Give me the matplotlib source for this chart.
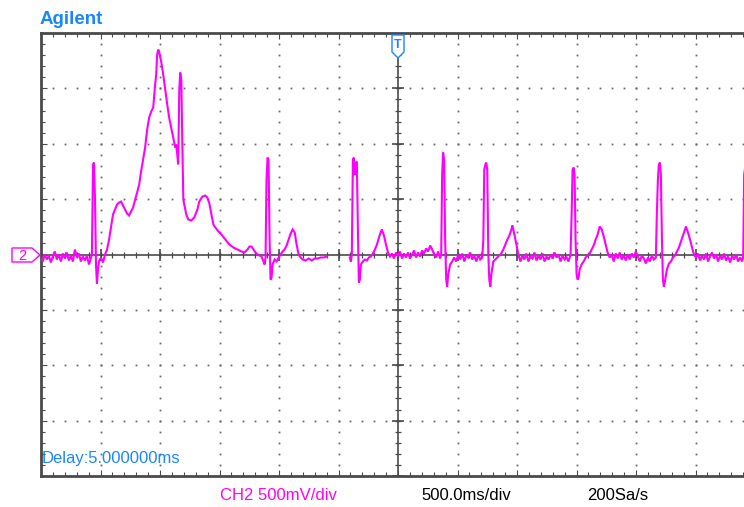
import numpy as np
import matplotlib
matplotlib.use("Agg")
import matplotlib.pyplot as plt
from matplotlib.ticker import MultipleLocator, NullFormatter
from matplotlib.patches import Polygon
import matplotlib.transforms as mtransforms

# ---------------- data (time in s relative to screen centre, CH2 in V) ----------------
nan = float("nan")
time_s = [
    -3.010, -2.985, -2.968, -2.951, -2.934, -2.917, -2.901, -2.884, -2.867, -2.850,
    -2.833, -2.816, -2.799, -2.783, -2.766, -2.749, -2.732, -2.715, -2.698, -2.681,
    -2.665, -2.648, -2.631, -2.614, -2.597, -2.580, -2.572, -2.563, -2.555, -2.546,
    -2.538, -2.530, -2.521, -2.513, -2.496, -2.479, -2.462, -2.445, -2.428, -2.412,
    -2.395, -2.378, -2.361, -2.344, -2.327, -2.310, -2.294, -2.277, -2.260, -2.243,
    -2.226, -2.209, -2.192, -2.175, -2.159, -2.142, -2.125, -2.108, -2.091, -2.074,
    -2.057, -2.041, -2.032, -2.024, -2.015, -2.007, -1.998, -1.990, -1.973, -1.956,
    -1.939, -1.923, -1.906, -1.889, -1.872, -1.863, -1.855, -1.847, -1.838, -1.830,
    -1.821, -1.813, -1.804, -1.796, -1.779, -1.762, -1.737, -1.712, -1.686, -1.670,
    -1.644, -1.619, -1.602, -1.585, -1.568, -1.551, -1.535, -1.509, -1.484, -1.450,
    -1.417, -1.383, -1.349, -1.315, -1.290, -1.265, -1.248, -1.231, -1.214, -1.197,
    -1.180, -1.164, -1.147, -1.130, -1.121, -1.113, -1.105, -1.096, -1.088, -1.079,
    -1.071, -1.062, -1.054, -1.037, -1.020, -1.003, -0.987, -0.970, -0.953, -0.936,
    -0.919, -0.902, -0.885, -0.868, -0.852, -0.835, -0.818, -0.801, -0.776, -0.750,
    -0.725, -0.700, -0.675, -0.649, -0.624, -0.599, -0.500,
    -0.405, -0.396, -0.388, -0.379, -0.371, -0.363, -0.354, -0.346, -0.337, -0.329,
    -0.320, -0.312, -0.295, -0.278, -0.261, -0.245, -0.228, -0.211, -0.194, -0.177,
    -0.160, -0.143, -0.135, -0.118, -0.101, -0.084, -0.067, -0.051, -0.034, -0.017,
    0.000, 0.017, 0.034, 0.051, 0.067, 0.084, 0.101, 0.118, 0.135, 0.152,
    0.169, 0.186, 0.202, 0.219, 0.236, 0.253, 0.270, 0.287, 0.304, 0.320,
    0.337, 0.354, 0.363, 0.371, 0.379, 0.388, 0.396, 0.405, 0.413, 0.422,
    0.438, 0.455, 0.472, 0.489, 0.506, 0.523, 0.540, 0.557, 0.573, 0.590,
    0.607, 0.624, 0.641, 0.658, 0.675, 0.691, 0.708, 0.717, 0.725, 0.734,
    0.742, 0.750, 0.759, 0.767, 0.776, 0.784, 0.801, 0.818, 0.835, 0.852,
    0.868, 0.885, 0.902, 0.919, 0.936, 0.953, 0.961, 0.978, 0.995, 1.012,
    1.029, 1.046, 1.062, 1.079, 1.096, 1.113, 1.130, 1.147, 1.164, 1.180,
    1.197, 1.214, 1.231, 1.248, 1.265, 1.282, 1.299, 1.315, 1.332, 1.349,
    1.366, 1.383, 1.400, 1.417, 1.433, 1.450, 1.459, 1.467, 1.476, 1.484,
    1.492, 1.501, 1.509, 1.518, 1.526, 1.543, 1.560, 1.577, 1.594, 1.611,
    1.627, 1.644, 1.661, 1.678, 1.695, 1.712, 1.729, 1.745, 1.762, 1.779,
    1.796, 1.813, 1.830, 1.847, 1.863, 1.880, 1.897, 1.914, 1.931, 1.948,
    1.965, 1.982, 1.998, 2.015, 2.032, 2.049, 2.066, 2.083, 2.100, 2.116,
    2.133, 2.150, 2.167, 2.175, 2.184, 2.192, 2.201, 2.209, 2.218, 2.226,
    2.234, 2.243, 2.260, 2.277, 2.294, 2.310, 2.327, 2.344, 2.361, 2.378,
    2.395, 2.412, 2.420, 2.437, 2.454, 2.471, 2.487, 2.504, 2.521, 2.538,
    2.555, 2.572, 2.589, 2.606, 2.622, 2.639, 2.656, 2.673, 2.690, 2.707,
    2.724, 2.740, 2.757, 2.774, 2.791, 2.808, 2.825, 2.842, 2.858, 2.875,
    2.892, 2.901, 2.909, 2.917,
]
ch2_v = [
    -0.027, -0.063, 0.000, -0.045, -0.009, -0.072, -0.018, 0.027, -0.045, 0.000,
    -0.063, 0.009, -0.036, 0.018, -0.054, -0.009, -0.063, 0.045, -0.027, 0.009,
    -0.063, -0.018, -0.054, -0.009, -0.090, -0.027, 0.000, 0.812, 0.830, 0.496,
    -0.090, -0.262, -0.135, -0.063, -0.027, -0.072, 0.000, 0.045, 0.135, 0.244,
    0.361, 0.406, 0.451, 0.469, 0.478, 0.442, 0.406, 0.370, 0.352, 0.388,
    0.424, 0.496, 0.560, 0.632, 0.749, 0.857, 0.966, 1.128, 1.236, 1.291,
    1.327, 1.534, 1.625, 1.805, 1.850, 1.832, 1.778, 1.742, 1.625, 1.489,
    1.354, 1.236, 1.146, 1.056, 0.966, 0.993, 0.903, 0.812, 1.489, 1.643,
    1.579, 1.038, 0.496, 0.451, 0.361, 0.316, 0.307, 0.334, 0.406, 0.478,
    0.523, 0.532, 0.514, 0.460, 0.361, 0.271, 0.244, 0.208, 0.181, 0.135,
    0.090, 0.063, 0.045, 0.027, 0.018, 0.045, 0.072, 0.072, 0.045, 0.018,
    0.000, -0.009, -0.018, -0.063, -0.090, -0.027, 0.677, 0.875, 0.857, 0.135,
    -0.226, -0.208, -0.090, -0.045, -0.063, -0.027, 0.000, 0.027, 0.045, 0.081,
    0.135, 0.190, 0.226, 0.199, 0.090, 0.000, -0.027, -0.045, -0.054, -0.036,
    -0.054, -0.036, -0.036, -0.027, -0.027, -0.018, nan,
    -0.027, -0.063, 0.000, 0.857, 0.875, 0.722, 0.812, 0.839, 0.226, -0.253,
    -0.226, -0.090, -0.063, -0.045, -0.054, -0.027, -0.018, 0.009, 0.045, 0.090,
    0.153, 0.208, 0.226, 0.171, 0.090, 0.018, -0.018, 0.009, -0.036, 0.018,
    -0.018, 0.027, -0.036, 0.009, -0.027, 0.018, -0.036, 0.000, 0.036, -0.027,
    0.018, -0.018, 0.036, 0.009, 0.054, 0.027, 0.081, 0.045, 0.000, -0.027,
    0.027, -0.036, 0.000, 0.722, 0.921, 0.857, 0.135, -0.226, -0.289, -0.181,
    -0.090, -0.063, -0.027, -0.063, 0.000, -0.045, 0.009, -0.063, -0.009, -0.027,
    0.018, -0.045, -0.009, -0.063, 0.000, -0.045, -0.027, 0.135, 0.767, 0.812,
    0.830, 0.767, 0.000, -0.226, -0.289, -0.181, -0.063, -0.045, -0.027, -0.009,
    0.009, 0.045, 0.090, 0.135, 0.171, 0.226, 0.262, 0.181, 0.090, 0.000,
    -0.063, -0.009, -0.045, 0.009, -0.063, -0.018, -0.036, 0.018, -0.054, -0.009,
    -0.045, 0.009, -0.063, -0.018, -0.045, 0.000, -0.036, 0.018, -0.027, 0.000,
    -0.063, -0.009, -0.045, -0.027, -0.063, 0.000, 0.361, 0.767, 0.785, 0.722,
    0.135, -0.181, -0.226, -0.208, -0.135, -0.090, -0.063, -0.027, -0.009, 0.009,
    0.045, 0.081, 0.135, 0.181, 0.253, 0.226, 0.162, 0.090, 0.018, -0.027,
    0.000, -0.063, 0.009, -0.036, 0.018, -0.045, -0.009, -0.054, 0.000, -0.045,
    0.009, -0.027, 0.027, -0.018, -0.063, -0.009, -0.036, -0.081, -0.027, -0.063,
    -0.009, -0.045, -0.027, 0.361, 0.677, 0.812, 0.830, 0.722, 0.135, -0.226,
    -0.289, -0.244, -0.135, -0.081, -0.063, -0.027, -0.009, 0.027, 0.063, 0.117,
    0.171, 0.226, 0.253, 0.199, 0.135, 0.063, 0.000, -0.027, 0.009, -0.054,
    -0.009, -0.045, 0.009, -0.063, -0.018, 0.018, -0.036, 0.000, -0.063, -0.009,
    -0.045, 0.009, -0.054, -0.018, -0.072, -0.009, -0.045, 0.000, -0.063, -0.027,
    -0.063, 0.000, 0.722, 0.785,
]

brand = "Agilent"
delay_label = "Delay:5.000000ms"
ch_label = "CH2 500mV/div"
time_label = "500.0ms/div"
rate_label = "200Sa/s"
channel_marker = "2"
trigger_marker = "T"

volts_per_div = 0.5
sec_per_div = 0.5
n_xdiv = 12
n_ydiv = 8

# ---------------- style ----------------
plt.rcParams["font.family"] = ["Liberation Sans", "DejaVu Sans"]
trace_col = "#FF00FF"
frame_col = "#4a4a4a"
dot_col = "#6a6a6a"
blue = "#1a86ff"

W, H = 744, 507
fig = plt.figure(figsize=(W / 100, H / 100), dpi=100)
fig.patch.set_facecolor("white")

ax_left, ax_top, ax_bottom = 41, 33, 476
div_px = 59.5
ax = fig.add_axes([ax_left / W, (H - ax_bottom) / H,
                   n_xdiv * div_px / W, (ax_bottom - ax_top) / H])
ax.set_facecolor("white")
xmax = n_xdiv / 2 * sec_per_div
ymax = n_ydiv / 2 * volts_per_div
ax.set_xlim(-xmax, xmax)
ax.set_ylim(-ymax, ymax)

# frame
for s in ["left", "top", "bottom"]:
    ax.spines[s].set_color(frame_col)
    ax.spines[s].set_linewidth(2.0)
ax.spines["right"].set_visible(False)
ax.xaxis.set_major_locator(MultipleLocator(sec_per_div))
ax.xaxis.set_minor_locator(MultipleLocator(sec_per_div / 5))
ax.yaxis.set_major_locator(MultipleLocator(volts_per_div))
ax.yaxis.set_minor_locator(MultipleLocator(volts_per_div / 5))
ax.xaxis.set_major_formatter(NullFormatter())
ax.yaxis.set_major_formatter(NullFormatter())
ax.tick_params(which="both", direction="in", color=frame_col, top=True, bottom=True,
               left=True, right=False)
ax.tick_params(which="major", length=4.0, width=0.8)
ax.tick_params(which="minor", length=3.0, width=0.8)

# dotted graticule
xmaj = np.arange(-xmax, xmax + 1e-9, sec_per_div)
ymaj = np.arange(-ymax, ymax + 1e-9, volts_per_div)
xmin_t = np.arange(-xmax, xmax + 1e-9, sec_per_div / 5)
ymin_t = np.arange(-ymax, ymax + 1e-9, volts_per_div / 5)
for xv in xmaj:
    if abs(xv) < 1e-9 or abs(abs(xv) - xmax) < 1e-9:
        continue
    ax.plot(np.full_like(ymin_t, xv), ymin_t, ls="none", marker="s", ms=1.3,
            mew=0, color=dot_col, zorder=1)
for yv in ymaj:
    if abs(yv) < 1e-9 or abs(abs(yv) - ymax) < 1e-9:
        continue
    ax.plot(xmin_t, np.full_like(xmin_t, yv), ls="none", marker="s", ms=1.3,
            mew=0, color=dot_col, zorder=1)

# centre axes with ticks
ax.axhline(0, color=frame_col, lw=1.2, zorder=2)
ax.axvline(0, color=frame_col, lw=1.2, zorder=2)
ax.plot(xmin_t, np.zeros_like(xmin_t), ls="none", marker="|", ms=5, mew=0.9,
        color=frame_col, zorder=2)
ax.plot(xmaj, np.zeros_like(xmaj), ls="none", marker="|", ms=8, mew=1.2,
        color=frame_col, zorder=2)
ax.plot(np.zeros_like(ymin_t), ymin_t, ls="none", marker="_", ms=5, mew=0.9,
        color=frame_col, zorder=2)
ax.plot(np.zeros_like(ymaj), ymaj, ls="none", marker="_", ms=8, mew=1.2,
        color=frame_col, zorder=2)

# trace
ax.plot(time_s, ch2_v, color=trace_col, lw=1.5, zorder=3, solid_joinstyle="miter")


def fx(px):
    return px / W


def fy(py):
    return 1 - py / H


# channel marker (left, at ground level)
ch_poly = Polygon([(fx(12), fy(248)), (fx(32), fy(248)), (fx(40), fy(255)),
                   (fx(32), fy(262)), (fx(12), fy(262))], closed=True,
                  transform=fig.transFigure, fc="white", ec=trace_col, lw=1.0, zorder=6)
fig.patches.append(ch_poly)
fig.text(fx(22), fy(255.5), channel_marker, color=trace_col, fontsize=10.5,
         ha="center", va="center", zorder=7)

# trigger marker (top centre)
poly = Polygon([(fx(392), fy(35)), (fx(404), fy(35)), (fx(404), fy(52)),
                (fx(398), fy(58)), (fx(392), fy(52))], closed=True,
               transform=fig.transFigure, fc="white", ec=blue, lw=1.0, zorder=6)
fig.patches.append(poly)
fig.text(fx(398), fy(45), trigger_marker, color=blue, fontsize=9, fontweight="bold",
         ha="center", va="center", zorder=7)

# texts
fig.text(fx(40), fy(19), brand, color=blue, fontsize=13.5, fontweight="bold",
         ha="left", va="center")
fig.text(fx(42), fy(458), delay_label, color=blue, fontsize=12, ha="left", va="center")
fig.text(fx(220), fy(495), ch_label, color=trace_col, fontsize=12, ha="left", va="center")
fig.text(fx(421), fy(495), time_label, color="black", fontsize=12, ha="left", va="center")
fig.text(fx(587), fy(495), rate_label, color="black", fontsize=12, ha="left", va="center")

fig.savefig("out.png", dpi=100)
